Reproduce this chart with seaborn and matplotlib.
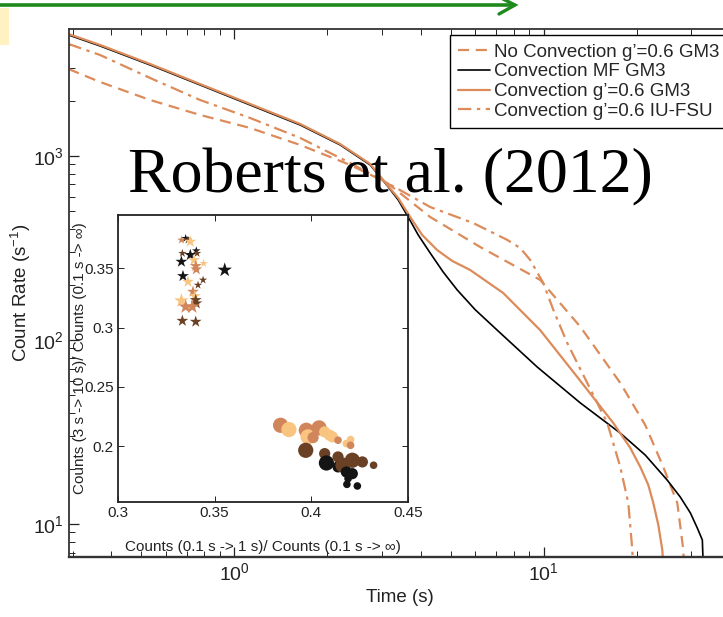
import numpy as np
import pandas as pd
import matplotlib
matplotlib.use("Agg")
import matplotlib.pyplot as plt
import seaborn as sns
from matplotlib.patches import Rectangle
from matplotlib.lines import Line2D
from matplotlib.ticker import LogLocator, NullFormatter

sns.set_style("white")
plt.rcParams['font.family'] = ['Liberation Sans', 'DejaVu Sans']
plt.rcParams['mathtext.fontset'] = 'custom'
plt.rcParams['mathtext.rm'] = 'Liberation Sans'
plt.rcParams['mathtext.it'] = 'Liberation Sans:italic'
plt.rcParams['mathtext.default'] = 'regular'

# ---------------- main curves (time [s], count rate [1/s]) ----------------
t_mf = [0.2906, 0.3675, 0.5336, 0.7744, 1.124, 1.632, 2.199, 2.749, 3.121, 3.387, 3.648,
        3.932, 4.298, 4.736, 5.257, 6.012, 7.085, 9.541, 13.15, 17.71, 21.33, 25.14,
        27.70, 29.84, 31.44, 32.63, 32.9]
c_mf = [4546, 3963, 3123, 2432, 1893, 1474, 1148, 894, 690, 577, 466,
        372, 297, 234, 187, 146, 113, 71.3, 45.5, 31.2, 23.7, 17.3,
        14.0, 11.5, 9.5, 8.19, 5.5]

t_gm3 = [0.2906, 0.3675, 0.5336, 0.7744, 1.124, 1.632, 2.199, 2.749, 3.121, 3.387, 3.703,
         4.049, 4.529, 5.064, 5.792, 7.406, 9.757, 12.86, 16.81, 19.08, 20.56, 21.82,
         22.65, 23.51, 24.22, 24.45]
c_gm3 = [4603, 4012, 3162, 2460, 1917, 1493, 1161, 905, 696, 591, 466,
         372, 308, 269, 240, 180, 113, 62.9, 35.4, 25.9, 20.4, 16.3,
         13.0, 9.88, 7.22, 5.5]

t_noconv = [0.2906, 0.3675, 0.5336, 0.7744, 1.124, 1.632, 2.368, 3.121, 4.298, 6.240,
            9.757, 13.15, 17.71, 21.33, 24.40, 25.70, 27.08, 28.32, 28.5]
c_noconv = [2970, 2525, 2015, 1671, 1420, 1148, 894, 714, 466, 320,
            212, 118, 58.4, 34.5, 20.4, 16.3, 13.0, 7.22, 5.5]

t_iufsu = [0.2906, 0.3675, 0.5336, 0.7744, 1.124, 1.632, 2.368, 3.121, 4.298, 5.923,
           7.630, 8.405, 9.057, 9.977, 10.75, 11.93, 13.85, 16.08, 17.71, 18.80, 19.37, 19.5]
c_iufsu = [4062, 3539, 2654, 2015, 1609, 1253, 916, 714, 528, 432,
           350, 316, 272, 204, 146, 96.3, 58.4, 35.4, 20.4, 13.0, 7.22, 5.5]

labels = ["No Convection g’=0.6 GM3", "Convection MF GM3",
          "Convection g’=0.6 GM3", "Convection g’=0.6 IU-FSU"]

# ---------------- inset scatter ----------------
star_x = [0.3350, 0.3362, 0.3374, 0.3328, 0.3333, 0.3374, 0.3405, 0.3409, 0.3393, 0.3328,
          0.3443, 0.3402, 0.3405, 0.3552, 0.3336, 0.3362, 0.3440, 0.3414, 0.3388, 0.3397,
          0.3402, 0.3328, 0.3405, 0.3350, 0.3384, 0.3333, 0.3402]
star_y = [0.3753, 0.3739, 0.3725, 0.3739, 0.3627, 0.3613, 0.3649, 0.3627, 0.3570, 0.3556,
          0.3542, 0.3520, 0.3492, 0.3486, 0.3435, 0.3387, 0.3402, 0.3359, 0.3303, 0.3266,
          0.3233, 0.3227, 0.3205, 0.3176, 0.3176, 0.3058, 0.3050]
star_grp = ["black", "dark", "tan", "orange", "dark", "black", "black", "dark", "tan", "black",
            "tan", "orange", "orange", "black", "black", "tan", "dark", "dark", "orange", "tan",
            "dark", "tan", "dark", "orange", "orange", "dark", "dark"]
star_sz = ["S", "S", "M", "S", "S", "M", "S", "S", "M", "M",
           "S", "M", "M", "L", "M", "M", "S", "S", "M", "M",
           "M", "L", "M", "L", "L", "M", "M"]

circ_x = [0.3841, 0.3884, 0.3974, 0.3983, 0.4009, 0.4040, 0.4069, 0.4095, 0.4109, 0.4138,
          0.4181, 0.4203, 0.4203, 0.3971, 0.4069, 0.4078, 0.4138, 0.4138, 0.4164, 0.4212,
          0.4264, 0.4322, 0.4181, 0.4212, 0.4190, 0.4184, 0.4238]
circ_y = [0.2177, 0.2141, 0.2135, 0.2079, 0.2073, 0.2155, 0.2121, 0.2093, 0.2079, 0.2051,
          0.2023, 0.2056, 0.2008, 0.1966, 0.1938, 0.1859, 0.1910, 0.1826, 0.1840, 0.1882,
          0.1868, 0.1840, 0.1783, 0.1769, 0.1727, 0.1679, 0.1665]
circ_grp = ["orange", "tan", "orange", "tan", "orange", "orange", "tan", "tan", "tan", "orange",
            "tan", "tan", "orange", "dark", "dark", "black", "dark", "black", "dark", "dark",
            "dark", "dark", "black", "black", "black", "black", "black"]
circ_sz = ["L", "L", "L", "L", "M", "L", "M", "M", "M", "S",
           "S", "S", "S", "L", "M", "L", "M", "M", "L", "L",
           "M", "S", "M", "M", "S", "S", "S"]

inset_xticks = [0.3, 0.35, 0.4, 0.45]
inset_yticks = [0.2, 0.25, 0.3, 0.35]

# ---------------- styles ----------------
ORANGE = "#DC8B5A"
palette = {"black": "#141414", "dark": "#6A4124", "orange": "#D1855A", "tan": "#F8C47F"}
circ_sizes = {"S": 30, "M": 65, "L": 120}
star_sizes = {"S": 40, "M": 80, "L": 120}

W, H = 723, 617
fig = plt.figure(figsize=(W / 100, H / 100), dpi=100)

def fx(px):
    return px / W

def fy(py):
    return 1 - py / H

# main axes (right edge extends slightly beyond the cropped picture)
ax_l, ax_r, ax_t, ax_b = 68.5, 733, 29, 557
ax = fig.add_axes([fx(ax_l), fy(ax_b), (ax_r - ax_l) / W, (ax_b - ax_t) / H])
ax.set_xscale('log')
ax.set_yscale('log')

sns.lineplot(x=t_noconv, y=c_noconv, ax=ax, color=ORANGE, lw=1.6, ls=(0, (5, 3)),
             label=labels[0], sort=False, estimator=None)
sns.lineplot(x=t_mf, y=c_mf, ax=ax, color="black", lw=1.2, ls="-",
             label=labels[1], sort=False, estimator=None)
sns.lineplot(x=t_gm3, y=c_gm3, ax=ax, color=ORANGE, lw=1.6, ls="-",
             label=labels[2], sort=False, estimator=None)
sns.lineplot(x=t_iufsu, y=c_iufsu, ax=ax, color=ORANGE, lw=1.6, ls=(0, (6, 2.5, 1.5, 2.5)),
             label=labels[3], sort=False, estimator=None)

ax.set_xlim(0.2906, 41)
ax.set_ylim(6.62, 4898)
ax.xaxis.set_minor_locator(LogLocator(base=10, subs=np.arange(2, 10)))
ax.yaxis.set_minor_locator(LogLocator(base=10, subs=np.arange(2, 10)))
ax.xaxis.set_minor_formatter(NullFormatter())
ax.yaxis.set_minor_formatter(NullFormatter())
ax.tick_params(which='both', direction='in', top=True, right=True, bottom=True, left=True,
               colors='#222222', labelcolor='#222222')
ax.tick_params(which='major', length=7, width=0.9, labelsize=14)
ax.tick_params(which='minor', length=4, width=0.7)
for s in ax.spines.values():
    s.set_color('#333333')
    s.set_linewidth(1.3)
ax.spines['bottom'].set_linewidth(1.7)
ax.set_xlabel("Time (s)", fontsize=13.5, color='#222222')
ax.set_ylabel("Count Rate (s$^{-1}$)", fontsize=13.5, color='#222222')
ax.xaxis.set_label_coords((400 - ax_l) / (ax_r - ax_l), -(589 - ax_b) / (ax_b - ax_t))
ax.yaxis.set_label_coords(-(ax_l - 33) / (ax_r - ax_l), 0.5)

leg = ax.legend(loc='upper left', bbox_to_anchor=(fx(450), fy(35)),
                bbox_transform=fig.transFigure, borderaxespad=0, fontsize=13.5,
                frameon=True, fancybox=False, framealpha=1, edgecolor='black',
                handlelength=1.7, handletextpad=0.2, labelspacing=0.14, borderpad=0.45)
leg.get_frame().set_linewidth(1.0)

# inset axes
in_l, in_r, in_t, in_b = 118, 408, 215, 502
axin = fig.add_axes([fx(in_l), fy(in_b), (in_r - in_l) / W, (in_b - in_t) / H])
star_df = pd.DataFrame({"x": star_x, "y": star_y, "g": star_grp, "s": star_sz})
circ_df = pd.DataFrame({"x": circ_x, "y": circ_y, "g": circ_grp, "s": circ_sz})
sns.scatterplot(data=circ_df, x="x", y="y", hue="g", size="s", palette=palette,
                sizes=circ_sizes, marker="o", edgecolor="none", linewidth=0,
                ax=axin, legend=False, zorder=3)
sns.scatterplot(data=star_df, x="x", y="y", hue="g", size="s", palette=palette,
                sizes=star_sizes, marker="*", edgecolor="none", linewidth=0,
                ax=axin, legend=False, zorder=3)
axin.set_xlim(0.3, 0.45)
axin.set_ylim(0.153, 0.395)
axin.set_xticks(inset_xticks)
axin.set_xticklabels([f"{v:g}" for v in inset_xticks])
axin.set_yticks(inset_yticks)
axin.set_yticklabels([f"{v:g}" for v in inset_yticks])
axin.tick_params(direction='in', top=True, right=True, bottom=True, left=True,
                 length=4, width=0.7, labelsize=11, colors='#222222', pad=3)
for s in axin.spines.values():
    s.set_color('#222222')
    s.set_linewidth(1.3)
axin.set_xlabel("Counts (0.1 s -> 1 s)/ Counts (0.1 s -> ∞)", fontsize=11, color='#222222')
axin.set_ylabel("Counts (3 s -> 10 s)/ Counts (0.1 s -> ∞)", fontsize=11, color='#222222')
axin.xaxis.set_label_coords(0.5, -(540 - in_b) / (in_b - in_t))
axin.yaxis.set_label_coords(-(in_l - 87) / (in_r - in_l), 0.5)

# overlay title text
fig.text(fx(128), fy(192), "Roberts et al. (2012)", fontsize=46,
         family=['Liberation Serif', 'DejaVu Serif'], ha='left', va='baseline',
         color='black', zorder=20)

# decorations from the slide
fig.add_artist(Rectangle((0, fy(45)), fx(9), (45 - 8) / H,
                         transform=fig.transFigure, facecolor='#FFF1C2',
                         edgecolor='none', zorder=0))
GREEN = '#1E8A1E'
fig.add_artist(Line2D([fx(0), fx(514)], [fy(5), fy(5)], transform=fig.transFigure,
                      color=GREEN, lw=2.6, zorder=10))
fig.add_artist(Line2D([fx(499), fx(515), fx(499)], [fy(-3), fy(5), fy(14)],
                      transform=fig.transFigure, color=GREEN, lw=2.4, zorder=10,
                      solid_joinstyle='miter'))

fig.savefig("out.png", dpi=100)
